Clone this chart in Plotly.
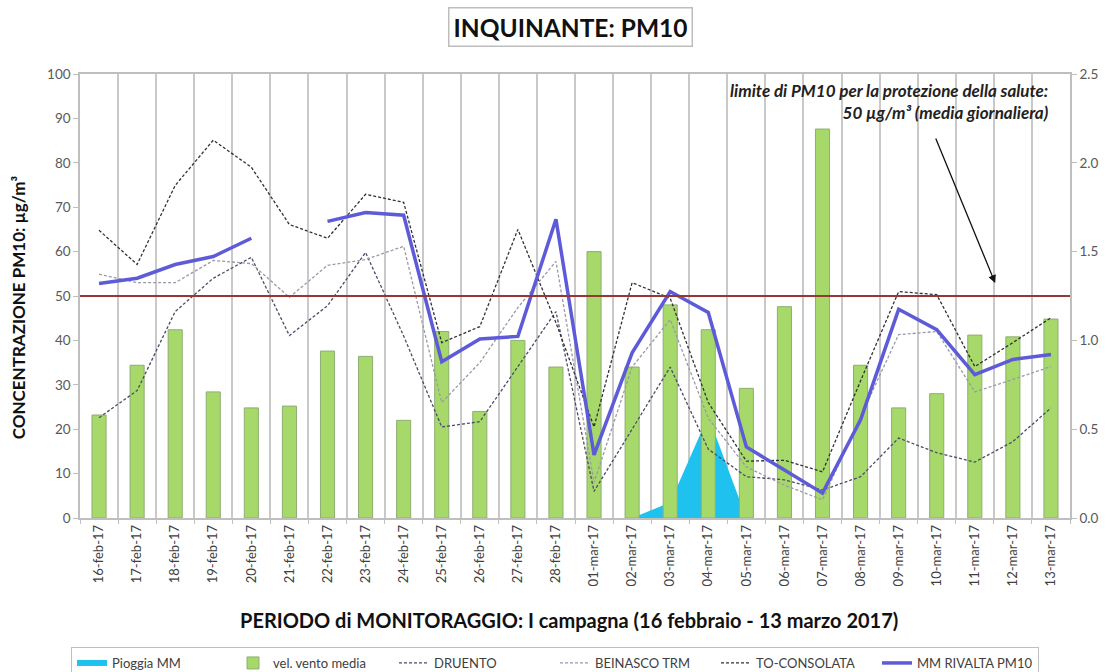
import plotly.graph_objects as go

dates = ["16-feb-17", "17-feb-17", "18-feb-17", "19-feb-17", "20-feb-17", "21-feb-17",
         "22-feb-17", "23-feb-17", "24-feb-17", "25-feb-17", "26-feb-17", "27-feb-17",
         "28-feb-17", "01-mar-17", "02-mar-17", "03-mar-17", "04-mar-17", "05-mar-17",
         "06-mar-17", "07-mar-17", "08-mar-17", "09-mar-17", "10-mar-17", "11-mar-17",
         "12-mar-17", "13-mar-17"]

pioggia_mm = [0, 0, 0, 0, 0, 0, 0, 0, 0, 0, 0, 0, 0, 0, 0, 3.5, 23, 0, 0, 0, 0, 0, 0, 0, 0, 0]

vel_vento_media = [0.58, 0.86, 1.06, 0.71, 0.62, 0.63, 0.94, 0.91, 0.55, 1.05, 0.60, 1.00, 0.85,
                   1.50, 0.85, 1.20, 1.06, 0.73, 1.19, 2.19, 0.86, 0.62, 0.70, 1.03, 1.02, 1.12]

druento = [22.6, 28.7, 46.5, 54.0, 58.7, 41.1, 47.8, 59.8, 41.0, 20.5, 21.7, 34.0, 46.5,
           6.0, 20.0, 34.0, 15.5, 9.3, 8.6, 6.3, 9.3, 18.0, 14.7, 12.6, 17.2, 24.8]

beinasco_trm = [54.9, 53.0, 53.0, 58.0, 57.3, 49.7, 56.9, 58.2, 61.2, 26.0, 35.0, 47.4, 57.8,
                8.0, 34.0, 44.7, 22.5, 11.5, 7.4, 4.1, 22.8, 41.3, 42.0, 28.4, 31.2, 34.1]

to_consolata = [64.8, 57.1, 74.9, 85.1, 79.0, 66.1, 63.0, 72.9, 71.1, 39.5, 43.1, 65.0, 44.0,
                20.5, 53.0, 49.5, 26.0, 12.8, 13.0, 10.4, 30.9, 51.0, 50.3, 34.1, 39.5, 45.1]

mm_rivalta = [52.8, 54.0, 57.1, 58.9, 63.0, None, 66.8, 68.8, 68.2, 35.2, 40.3, 40.9, 67.3,
              14.2, 37.2, 51.0, 46.3, 16.0, 10.8, 5.6, 22.1, 47.0, 42.4, 32.3, 35.7, 36.8]

limite_pm10 = 50

FONT = "Lato"
fig = go.Figure()

fig.add_trace(go.Scatter(x=dates, y=pioggia_mm, name="Pioggia MM", mode="none",
                         fill="tozeroy", fillcolor="#1fc1ef", yaxis="y"))
fig.add_trace(go.Bar(x=dates, y=vel_vento_media, name="vel. vento media", yaxis="y2",
                     width=0.37, marker=dict(color="#a6d96a", line=dict(color="#8eae72", width=1))))
fig.add_trace(go.Scatter(x=dates, y=druento, name="DRUENTO", mode="lines", yaxis="y3",
                         line=dict(color="#4f4a68", width=1.3, dash="3px,2px")))
fig.add_trace(go.Scatter(x=dates, y=beinasco_trm, name="BEINASCO TRM", mode="lines", yaxis="y3",
                         line=dict(color="#9a98aa", width=1.3, dash="3px,2px")))
fig.add_trace(go.Scatter(x=dates, y=to_consolata, name="TO-CONSOLATA", mode="lines", yaxis="y3",
                         line=dict(color="#303038", width=1.3, dash="3px,2px")))
fig.add_trace(go.Scatter(x=dates, y=mm_rivalta, name="MM RIVALTA PM10", mode="lines", yaxis="y3",
                         connectgaps=False, line=dict(color="#5d5bd8", width=3.5)))

fig.add_shape(type="line", xref="paper", x0=0, x1=1, yref="y", y0=limite_pm10, y1=limite_pm10,
              line=dict(color="#953735", width=2), layer="above")

axis_gray = "#bfbfbf"
fig.update_layout(
    width=1110, height=672,
    margin=dict(l=80, r=38, t=74, b=154),
    paper_bgcolor="white", plot_bgcolor="white",
    font=dict(family=FONT, color="#404040"),
    showlegend=True,
    legend=dict(orientation="h", x=0.5, xanchor="center", xref="container",
                y=(672 - 647) / 672, yanchor="top", yref="container",
                bordercolor="#bfbfbf", borderwidth=1, entrywidth=116, itemwidth=30,
                font=dict(family=FONT, size=13, color="#404040"), traceorder="normal"),
    xaxis=dict(type="category", tickson="boundaries", showgrid=True, gridcolor="#c9c9c9",
               gridwidth=1.5, showline=True, linecolor=axis_gray, linewidth=1.5, mirror=True,
               ticks="outside", ticklen=4, tickcolor=axis_gray, tickangle=-90,
               tickfont=dict(family=FONT, size=13, color="#404040")),
    yaxis=dict(range=[0, 100], dtick=10, showgrid=False, zeroline=False, showline=True,
               linecolor=axis_gray, linewidth=1.5, ticks="outside", ticklen=5, tickcolor=axis_gray,
               tickfont=dict(family=FONT, size=13.5, color="#595959")),
    yaxis2=dict(range=[0, 2.5], dtick=0.5, tickformat=".1f", overlaying="y", side="right",
                showgrid=False, zeroline=False, showline=True, linecolor=axis_gray, linewidth=1.5,
                ticks="outside", ticklen=5, tickcolor=axis_gray,
                tickfont=dict(family=FONT, size=13.5, color="#595959")),
    yaxis3=dict(range=[0, 100], overlaying="y", visible=False, showgrid=False),
    bargap=0.6,
)

fig.add_annotation(text="<b>INQUINANTE: PM10</b>", xref="paper", yref="paper", x=0.4956, y=1.106,
                   xanchor="center", yanchor="middle", showarrow=False,
                   font=dict(family=FONT, size=24.5, color="#111111"),
                   bordercolor="#bdbdbd", borderwidth=1.5, borderpad=4, bgcolor="white")
fig.add_annotation(text="<b>CONCENTRAZIONE PM10: µg/m³</b>", xref="paper", yref="paper",
                   x=-0.0625, y=0.475, textangle=-90, xanchor="center", yanchor="middle",
                   showarrow=False, font=dict(family=FONT, size=17, color="#111111"))
fig.add_annotation(text="<b>PERIODO di MONITORAGGIO: I campagna (16 febbraio - 13 marzo 2017)</b>",
                   xref="paper", yref="paper", x=0.494, y=-0.23, xanchor="center", yanchor="middle",
                   showarrow=False, font=dict(family=FONT, size=20, color="#111111"))
fig.add_annotation(text="<b><i>limite di PM10 per la protezione della salute:<br>50 µg/m³ (media giornaliera)</i></b>",
                   xref="paper", yref="paper", x=0.98, y=0.99, xanchor="right", yanchor="top",
                   align="right", showarrow=False, font=dict(family=FONT, size=17, color="#222222"))
fig.add_annotation(text="", xref="paper", yref="paper", x=(997 - 80) / 992, y=(518 - 283) / 444,
                   ax=-60, ay=-146, showarrow=True, arrowhead=2, arrowsize=1.2, arrowwidth=1.3,
                   arrowcolor="#111111")

fig.write_html("out.html", config={"displayModeBar": False},
               post_script="document.body.style.margin='0';")
